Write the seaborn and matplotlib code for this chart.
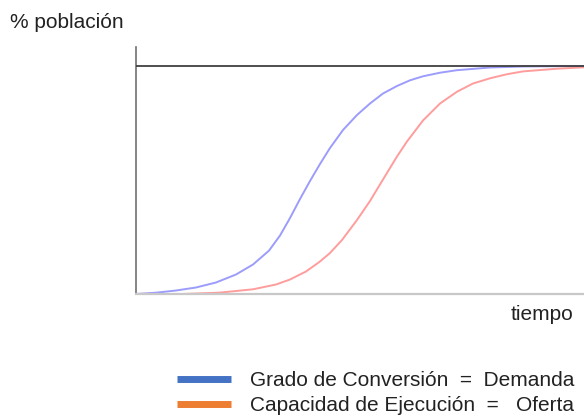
import matplotlib
matplotlib.use("Agg")
import matplotlib.pyplot as plt
from matplotlib.lines import Line2D
import seaborn as sns
import pandas as pd

# Data (x: tiempo 0-100, y: % población 0-100)
demanda_x = [0, 4.46, 8.93, 13.39, 17.86, 22.32, 26.12, 29.69, 32.14, 34.38, 36.61,
             38.84, 41.07, 43.30, 46.21, 49.33, 52.23, 55.13, 58.26, 61.16, 64.06,
             67.86, 71.65, 79.02, 86.38, 100]
demanda_y = [0, 0.57, 1.53, 2.85, 5.04, 8.54, 12.92, 19.0, 25.6, 33.29, 41.61,
             49.50, 56.94, 63.95, 71.84, 78.41, 83.44, 87.82, 91.11, 93.60, 95.36,
             96.93, 98.03, 99.21, 99.65, 99.87]
oferta_x = [10.27, 18.53, 26.12, 31.25, 34.38, 37.95, 41.07, 43.30, 45.98, 49.33,
            52.23, 55.13, 56.70, 58.26, 60.49, 64.06, 67.86, 71.65, 75.22, 79.02,
            82.81, 86.38, 93.97, 100]
oferta_y = [0, 0.57, 2.06, 4.16, 6.35, 9.86, 14.24, 17.96, 23.65, 32.41,
            40.73, 50.15, 55.19, 60.23, 66.80, 76.0, 83.44, 88.61, 92.20, 94.48,
            96.27, 97.50, 98.68, 99.30]
series_names = ["Grado de Conversión  =  Demanda", "Capacidad de Ejecución  =   Oferta"]
curve_colors = ["#9c9cfc", "#ff9c9c"]
legend_colors = ["#4472c4", "#ed7d31"]

df = pd.concat([
    pd.DataFrame({"tiempo": demanda_x, "pob": demanda_y, "serie": series_names[0]}),
    pd.DataFrame({"tiempo": oferta_x, "pob": oferta_y, "serie": series_names[1]}),
])

sns.set_style("white")
plt.rcParams["font.family"] = ["Liberation Sans", "DejaVu Sans"]

fig = plt.figure(figsize=(5.84, 4.17), dpi=100)
W, H = 584, 417
ax = fig.add_axes([136 / W, 1 - 294 / H, (584 - 136) / W, (294 - 47) / H])

sns.lineplot(data=df, x="tiempo", y="pob", hue="serie", palette=curve_colors,
             ax=ax, legend=False, linewidth=1.4, sort=False)
for ln in ax.lines:
    ln.set_solid_joinstyle("round")

ax.axhline(100, color="#404040", lw=1.3, zorder=3)
ax.set_xlim(0, 100)
ax.set_ylim(0, 108.19)
ax.set_xticks([])
ax.set_yticks([])
ax.set_xlabel("")
ax.set_ylabel("")
for s in ["top", "right"]:
    ax.spines[s].set_visible(False)
ax.spines["left"].set_color("#707070")
ax.spines["left"].set_linewidth(1.2)
ax.spines["bottom"].set_color("#c8c8c8")
ax.spines["bottom"].set_linewidth(1.6)

fig.text(10 / W, 1 - 22 / H, "% población", fontsize=15, color="#222222",
         ha="left", va="center")
fig.text(573 / W, 1 - 315 / H, "tiempo", fontsize=15, color="#222222",
         ha="right", va="center")

handles = [Line2D([], [], color=c, lw=5, solid_capstyle="butt") for c in legend_colors]
fig.legend(handles, series_names, loc="upper left",
           bbox_to_anchor=(177 / W, 1 - 371 / H), frameon=False,
           fontsize=15, handlelength=2.6, handletextpad=0.9,
           labelspacing=0.3, borderpad=0, borderaxespad=0,
           labelcolor="#222222")

fig.savefig("out.png", dpi=100)
